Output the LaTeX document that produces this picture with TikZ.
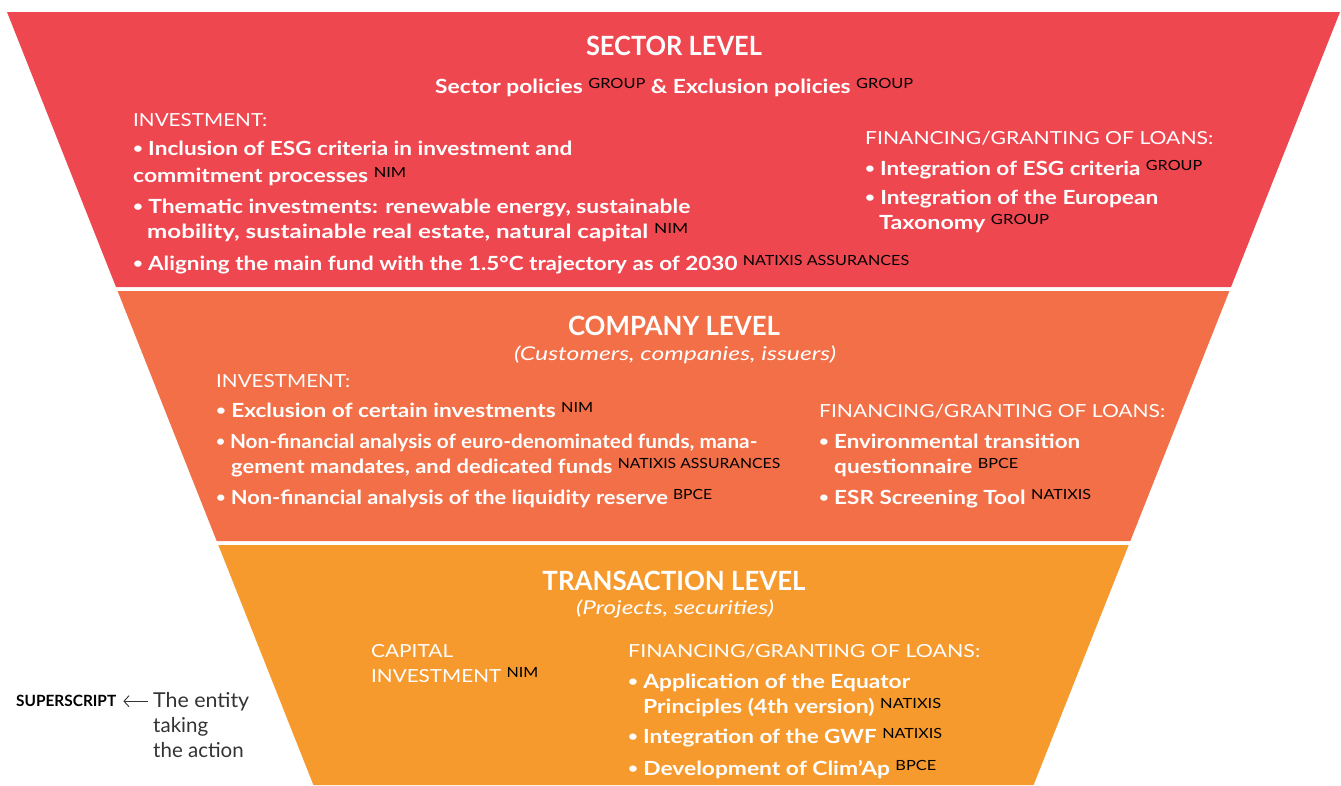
\documentclass[tikz,border=0pt]{standalone}
\usepackage{fontspec}
\setmainfont{Lato}
\usetikzlibrary{arrows.meta}
\definecolor{cred}{HTML}{EF4750}
\definecolor{corange}{HTML}{F26F47}
\definecolor{cyellow}{HTML}{F79A2E}
\definecolor{cgray}{HTML}{333333}
\newcommand\fitto[2]{\resizebox{#1pt}{\height}{#2}}
\newcommand\ent[1]{\raisebox{5pt}{\textcolor{black}{\fontsize{14}{14}\selectfont\mdseries #1}}}
\newcommand\bul{\raisebox{1.5pt}{\scalebox{0.75}{•}}\hspace{4.5pt}}
\tikzset{
  band/.style={draw=none},
  title/.style={inner sep=0, anchor=base, text=white, font=\fontsize{26.5}{30}\selectfont\bfseries},
  sub/.style={inner sep=0, anchor=base, text=white, font=\fontsize{19}{22}\selectfont\itshape},
  head/.style={inner sep=0, anchor=base west, text=white, font=\fontsize{18}{22}\selectfont},
  item/.style={inner sep=0, anchor=base west, text=white, font=\fontsize{19.5}{22}\selectfont\bfseries},
  legsup/.style={inner sep=0, anchor=base west, text=black, font=\fontsize{15.5}{18}\selectfont\bfseries},
  legtxt/.style={inner sep=0, anchor=base west, text=cgray, font=\fontsize{20.5}{24}\selectfont},
}
\begin{document}
\begin{tikzpicture}[x=1pt, y=-1pt]
\useasboundingbox (0,0) rectangle (1341,785);
% bands
\fill[cred] (7,12) -- (1340,12) -- (1231,287) -- (116,287) -- cycle;
\fill[corange] (117.6,291) -- (1229.4,291) -- (1130.3,541) -- (216.7,541) -- cycle;
\fill[cyellow] (218.3,545) -- (1128.7,545) -- (1033.6,785) -- (313.4,785) -- cycle;

% sector level
\node[title] (stitle) at (674,55) {\fitto{176}{SECTOR LEVEL}};
\node[item] (spol) at (435,93) {\fitto{478}{Sector policies \ent{GROUP} \& Exclusion policies \ent{GROUP}}};
\node[head] (sinv) at (133,126) {\fitto{134}{INVESTMENT:}};
\node[item] (si1a) at (133,155) {\fitto{439}{\bul Inclusion of ESG criteria in investment and}};
\node[item] (si1b) at (133,182) {\fitto{273}{commitment processes \ent{NIM}}};
\node[item] (si2a) at (133,213) {\fitto{557}{\bul Thematic investments: renewable energy, sustainable}};
\node[item] (si2b) at (147,238) {\fitto{541}{mobility, sustainable real estate, natural capital \ent{NIM}}};
\node[item] (si3) at (133,270) {\fitto{776}{\bul Aligning the main fund with the 1.5°C trajectory as of 2030 \ent{NATIXIS ASSURANCES}}};
\node[head] (sfin) at (865,144) {\fitto{348}{FINANCING/GRANTING OF LOANS:}};
\node[item] (sf1) at (865,175) {\fitto{337}{\bul Integration of ESG criteria \ent{GROUP}}};
\node[item] (sf2a) at (865,204) {\fitto{293}{\bul Integration of the European}};
\node[item] (sf2b) at (879,229) {\fitto{170}{Taxonomy \ent{GROUP}}};

% company level
\node[title] (ctitle) at (674,335) {\fitto{212}{COMPANY LEVEL}};
\node[sub] (csub) at (675,360) {\fitto{322}{(Customers, companies, issuers)}};
\node[head] (cinv) at (216,387) {\fitto{134}{INVESTMENT:}};
\node[item] (ci1) at (216,417) {\fitto{377}{\bul Exclusion of certain investments \ent{NIM}}};
\node[item] (ci2a) at (216,448) {\fitto{541}{\bul Non-financial analysis of euro-denominated funds, mana-}};
\node[item] (ci2b) at (231,473) {\fitto{549}{gement mandates, and dedicated funds \ent{NATIXIS ASSURANCES}}};
\node[item] (ci3) at (216,504) {\fitto{496}{\bul Non-financial analysis of the liquidity reserve \ent{BPCE}}};
\node[head] (cfin) at (819,417) {\fitto{346}{FINANCING/GRANTING OF LOANS:}};
\node[item] (cf1a) at (819,448) {\fitto{261}{\bul Environmental transition}};
\node[item] (cf1b) at (834,473) {\fitto{184}{questionnaire \ent{BPCE}}};
\node[item] (cf2) at (819,504) {\fitto{272}{\bul ESR Screening Tool \ent{NATIXIS}}};

% transaction level
\node[title] (ttitle) at (674,590) {\fitto{263}{TRANSACTION LEVEL}};
\node[sub] (tsub) at (675,614) {\fitto{198}{(Projects, securities)}};
\node[head] (tcap1) at (371,657) {\fitto{82}{CAPITAL}};
\node[head] (tcap2) at (371,682) {\fitto{167}{INVESTMENT \ent{NIM}}};
\node[head] (tfin) at (628,657) {\fitto{352}{FINANCING/GRANTING OF LOANS:}};
\node[item] (tf1a) at (628,688) {\fitto{282}{\bul Application of the Equator}};
\node[item] (tf1b) at (643,713) {\fitto{298}{Principles (4th version) \ent{NATIXIS}}};
\node[item] (tf2) at (628,743) {\fitto{314}{\bul Integration of the GWF \ent{NATIXIS}}};
\node[item] (tf3) at (628,775) {\fitto{308}{\bul Development of Clim’Ap \ent{BPCE}}};

% legend
\node[legsup] (lsup) at (16,706) {\fitto{100}{SUPERSCRIPT}};
\node[legtxt] (lent1) at (153,707) {\fitto{96}{The entity}};
\node[legtxt] (lent2) at (153,732) {taking};
\node[legtxt] (lent3) at (153,757) {the action};
\draw[cgray, line width=0.9pt, -{Straight Barb[length=5pt,width=11pt]}]
  ([xshift=-5pt]lent1.west) -- ([xshift=7pt]lsup.east |- lent1.west);
\end{tikzpicture}
\end{document}
